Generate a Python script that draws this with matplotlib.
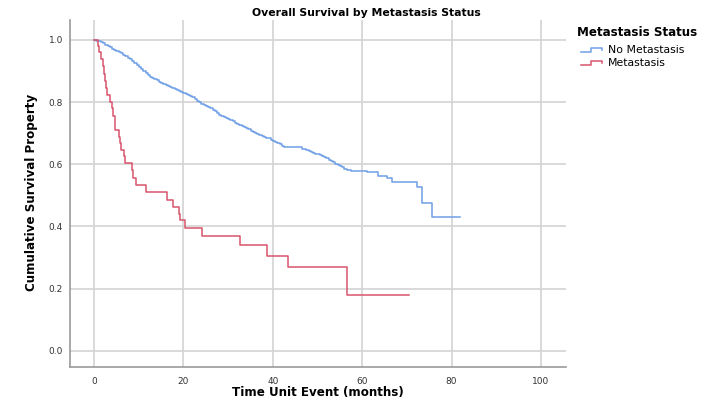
import matplotlib
matplotlib.use("Agg")
import matplotlib.pyplot as plt
from matplotlib.lines import Line2D
from matplotlib.legend_handler import HandlerBase

# ---- data ----
no_met_time = [0, 0.5, 1, 1.5, 2, 2.5, 3, 3.5, 4, 4.5, 5, 5.5, 6, 6.5, 7, 7.5, 8, 8.5, 9,
               9.5, 10, 10.5, 11, 11.5, 12, 12.5, 13, 13.5, 14, 14.5, 15, 15.5, 16, 16.5,
               17, 17.5, 18, 18.5, 19, 19.5, 20, 20.5, 21, 21.5, 22, 22.5, 23, 23.5, 24,
               24.5, 25, 25.5, 26, 26.5, 27, 27.5, 28, 28.5, 29, 29.5, 30, 30.5, 31, 31.5,
               32, 32.5, 33, 33.5, 34, 34.5, 35, 35.5, 36, 36.5, 37, 37.5, 38, 38.5, 39,
               39.5, 40, 40.5, 41, 41.5, 42, 42.5, 46.5, 47, 47.5, 48, 48.5, 49, 49.5, 50,
               50.5, 51, 51.5, 52, 52.5, 53, 53.5, 54, 54.5, 55, 55.5, 56, 56.5, 57.5,
               61, 63.5, 65.5, 66.6, 72.2, 73.4, 75.6, 81.8]
no_met_surv = [1.0, 0.998, 0.995, 0.993, 0.99, 0.985, 0.98, 0.976, 0.972, 0.969, 0.965,
               0.961, 0.957, 0.953, 0.948, 0.943, 0.937, 0.931, 0.925, 0.918, 0.912, 0.906,
               0.9, 0.894, 0.888, 0.882, 0.877, 0.873, 0.87, 0.866, 0.862, 0.858, 0.855,
               0.853, 0.85, 0.846, 0.842, 0.839, 0.836, 0.833, 0.83, 0.827, 0.824, 0.82,
               0.815, 0.81, 0.805, 0.8, 0.795, 0.791, 0.787, 0.784, 0.78, 0.775, 0.77,
               0.765, 0.76, 0.756, 0.752, 0.748, 0.745, 0.741, 0.738, 0.734, 0.73, 0.727,
               0.724, 0.72, 0.716, 0.712, 0.708, 0.705, 0.702, 0.698, 0.695, 0.691, 0.688,
               0.686, 0.683, 0.679, 0.675, 0.671, 0.668, 0.664, 0.66, 0.656, 0.65, 0.648,
               0.645, 0.642, 0.64, 0.637, 0.634, 0.632, 0.63, 0.627, 0.624, 0.62, 0.615,
               0.61, 0.606, 0.602, 0.597, 0.593, 0.59, 0.586, 0.583, 0.578, 0.574, 0.563,
               0.555, 0.544, 0.526, 0.477, 0.43, 0.43]

met_time = [0, 0.8, 1.2, 1.6, 1.9, 2.2, 2.4, 2.6, 2.8, 3.6, 4.0, 4.3, 4.6, 5.6, 5.8, 6.0,
            6.6, 6.9, 8.5, 8.8, 9.4, 11.6, 16.3, 17.7, 19.0, 19.3, 20.3, 24.2, 32.7, 38.6,
            43.4, 56.7, 70.5]
met_surv = [1.0, 0.98, 0.96, 0.94, 0.915, 0.89, 0.868, 0.845, 0.823, 0.80, 0.78, 0.755,
            0.71, 0.688, 0.667, 0.646, 0.625, 0.604, 0.58, 0.556, 0.534, 0.511, 0.486,
            0.463, 0.44, 0.42, 0.395, 0.37, 0.341, 0.306, 0.269, 0.18, 0.18]

series_labels = ["No Metastasis", "Metastasis"]
legend_title = "Metastasis Status"
x_ticks = [0, 20, 40, 60, 80, 100]
y_ticks = [0.0, 0.2, 0.4, 0.6, 0.8, 1.0]

blue = "#6f9fe6"
red = "#d8546c"

plt.rcParams["font.family"] = ["DejaVu Sans"]

fig = plt.figure(figsize=(7.03, 4.11), dpi=100)
ax = fig.add_axes([70/703, 1-367/411, (566-70)/703, (367-20)/411])

l1, = ax.step(no_met_time, no_met_surv, where="post", color=blue, lw=1.1)
l2, = ax.step(met_time, met_surv, where="post", color=red, lw=1.1)

ax.set_xlim(-5.4, 105.6)
ax.set_ylim(-0.052, 1.064)
ax.set_xticks(x_ticks)
ax.set_yticks(y_ticks)
ax.set_xticklabels([str(v) for v in x_ticks])
ax.set_yticklabels([f"{v:.1f}" for v in y_ticks])
ax.grid(True, color="#d3d3d3", lw=1.2)
ax.set_axisbelow(True)
ax.tick_params(length=0, labelsize=6.5, colors="#333333")
ax.tick_params(axis="y", pad=5)
ax.tick_params(axis="x", pad=7)
for s in ["top", "right"]:
    ax.spines[s].set_visible(False)
for s in ["left", "bottom"]:
    ax.spines[s].set_color("#9a9a9a")
    ax.spines[s].set_linewidth(1.2)

fig.text(318/703, 1-392/411, "Time Unit Event (months)", ha="center", va="center",
         fontsize=8.6, fontweight="bold")
fig.text(32/703, 1-192/411, "Cumulative Survival Property", ha="center", va="center",
         rotation=90, fontsize=8.6, fontweight="bold")
fig.text(366/703, 1-13/411, "Overall Survival by Metastasis Status", ha="center",
         va="center", fontsize=7.8, fontweight="bold")
fig.text(577/703, 1-33/411, legend_title, ha="left", va="center",
         fontsize=8.6, fontweight="bold")


class StepHandler(HandlerBase):
    def create_artists(self, legend, orig_handle, xdescent, ydescent, width, height,
                       fontsize, trans):
        x0 = -xdescent
        y0 = -ydescent
        xs = [x0, x0 + width*0.45, x0 + width*0.45, x0 + width, x0 + width]
        ys = [y0 + height*0.15, y0 + height*0.15, y0 + height*0.7, y0 + height*0.7,
              y0 + height*0.4]
        ln = Line2D(xs, ys, color=orig_handle.get_color(), lw=1.1, transform=trans)
        return [ln]


leg = fig.legend([l1, l2], series_labels, loc="upper left",
                 bbox_to_anchor=(581/703, 1-45/411), frameon=False, fontsize=7.8,
                 handler_map={Line2D: StepHandler()},
                 handlelength=1.95, handletextpad=0.55, labelspacing=0.3,
                 borderaxespad=0, borderpad=0)

fig.savefig("out.png", dpi=100)
